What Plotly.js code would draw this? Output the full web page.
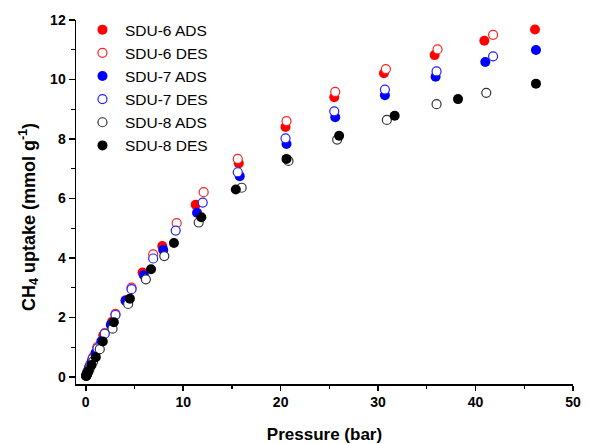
<!DOCTYPE html>
<html>
<head>
<meta charset="utf-8">
<script src="https://cdn.plot.ly/plotly-3.0.1.min.js"></script>
<style>html,body{margin:0;padding:0;background:#fff;}#chart{width:590px;height:444px;}</style>
</head>
<body>
<div id="chart"></div>
<script>
// SDU-6 ADS
const sdu6AdsP = [0.05,0.1,0.2,0.35,0.5,0.8,1.2,1.8,2.7,4.1,5.83,7.85,11.28,15.7,20.5,25.5,30.6,35.8,40.9,46.1];
const sdu6AdsU = [0.04,0.1,0.18,0.3,0.42,0.68,0.98,1.4,1.85,2.58,3.51,4.40,5.79,7.18,8.40,9.40,10.21,10.82,11.30,11.68];
// SDU-6 DES
const sdu6DesP = [41.8,36.1,30.8,25.6,20.6,15.6,12.1,9.33,6.92,4.7,3.05,1.95,1.2,0.7,0.4,0.2,0.1];
const sdu6DesU = [11.50,11.01,10.35,9.58,8.60,7.33,6.21,5.17,4.12,3.0,2.12,1.47,1.0,0.62,0.38,0.2,0.1];
// SDU-7 ADS
const sdu7AdsP = [0.05,0.1,0.2,0.35,0.6,1.0,1.6,2.57,4.08,5.97,7.95,11.42,15.8,20.6,25.6,30.7,35.9,41.0,46.2];
const sdu7AdsU = [0.04,0.08,0.17,0.3,0.5,0.8,1.2,1.75,2.56,3.42,4.27,5.52,6.75,7.83,8.73,9.47,10.09,10.59,10.99];
// SDU-7 DES
const sdu7DesP = [41.8,36.0,30.7,25.5,20.5,15.6,12.0,9.23,6.92,4.7,3.05,1.95,1.2,0.7,0.4,0.2,0.1];
const sdu7DesU = [10.78,10.27,9.66,8.93,8.02,6.88,5.86,4.92,3.98,2.95,2.08,1.45,0.96,0.6,0.35,0.18,0.09];
// SDU-8 ADS
const sdu8AdsP = [0.05,0.1,0.2,0.4,0.75,1.44,2.75,4.35,6.17,8.06,11.59,16.0,20.8,25.8,30.9,36.0,41.1];
const sdu8AdsU = [0.03,0.07,0.14,0.28,0.51,0.93,1.62,2.45,3.28,4.06,5.19,6.36,7.26,7.98,8.64,9.17,9.55];
// SDU-8 DES
const sdu8DesP = [46.2,38.2,31.7,26.0,20.6,15.4,11.86,9.05,6.7,4.53,2.88,1.75,1.03,0.6,0.3,0.15,0.05];
const sdu8DesU = [9.86,9.34,8.78,8.11,7.33,6.30,5.37,4.50,3.62,2.63,1.84,1.19,0.66,0.4,0.2,0.1,0.03];

const names = ['SDU-6 ADS','SDU-6 DES','SDU-7 ADS','SDU-7 DES','SDU-8 ADS','SDU-8 DES'];

function filled(name, x, y, color) {
  return {type:'scatter', mode:'markers', name:name, x:x, y:y,
    marker:{symbol:'circle', size:10, color:color, line:{width:0}}};
}
function open(name, x, y, color) {
  return {type:'scatter', mode:'markers', name:name, x:x, y:y,
    marker:{symbol:'circle', size:9, color:'#ffffff', line:{width:1.2, color:color}}};
}

const data = [
  filled(names[0], sdu6AdsP, sdu6AdsU, '#ff0000'),
  open(names[1], sdu6DesP, sdu6DesU, '#ff2020'),
  filled(names[2], sdu7AdsP, sdu7AdsU, '#0000ff'),
  open(names[3], sdu7DesP, sdu7DesU, '#2020ff'),
  open(names[4], sdu8AdsP, sdu8AdsU, '#333333'),
  filled(names[5], sdu8DesP, sdu8DesU, '#000000')
];

const F = 'Liberation Sans, Arial, sans-serif';
const layout = {
  width:590, height:444,
  margin:{l:76, r:17, t:20, b:60},
  paper_bgcolor:'#fff', plot_bgcolor:'#fff',
  showlegend:true,
  legend:{x:0.008, y:1.019, xanchor:'left', yanchor:'top', bgcolor:'rgba(0,0,0,0)',
    itemwidth:35,
    font:{family:F, size:15.5, color:'#000'}},
  xaxis:{
    range:[-1,50], dtick:10, tick0:0, showgrid:false, zeroline:false,
    showline:true, linecolor:'#000', linewidth:1.5, mirror:false,
    ticks:'outside', ticklen:5, tickwidth:1.5, tickcolor:'#000',
    minor:{dtick:5, tick0:0, ticks:'outside', ticklen:3, tickwidth:1.2, tickcolor:'#000', showgrid:false},
    tickfont:{family:F, size:14, color:'#000', weight:'bold'},
    title:{text:'<b>Pressure (bar)</b>', font:{family:F, size:17, color:'#000'}, standoff:19}
  },
  yaxis:{
    range:[-0.24,12], dtick:2, tick0:0, showgrid:false, zeroline:false,
    showline:true, linecolor:'#000', linewidth:1.5, mirror:false,
    ticks:'outside', ticklen:6, tickwidth:1.5, tickcolor:'#000',
    minor:{dtick:1, tick0:0, ticks:'outside', ticklen:4, tickwidth:1.2, tickcolor:'#000', showgrid:false},
    tickfont:{family:F, size:14, color:'#000', weight:'bold'},
    title:{text:'<b>CH<sub>4</sub> uptake (mmol g<sup>-1</sup>)&nbsp;&nbsp;&nbsp;&nbsp;&nbsp;&nbsp;</b>', font:{family:F, size:18, color:'#000'}, standoff:10}
  }
};

Plotly.newPlot('chart', data, layout, {displayModeBar:false, staticPlot:true});
</script>
</body>
</html>
